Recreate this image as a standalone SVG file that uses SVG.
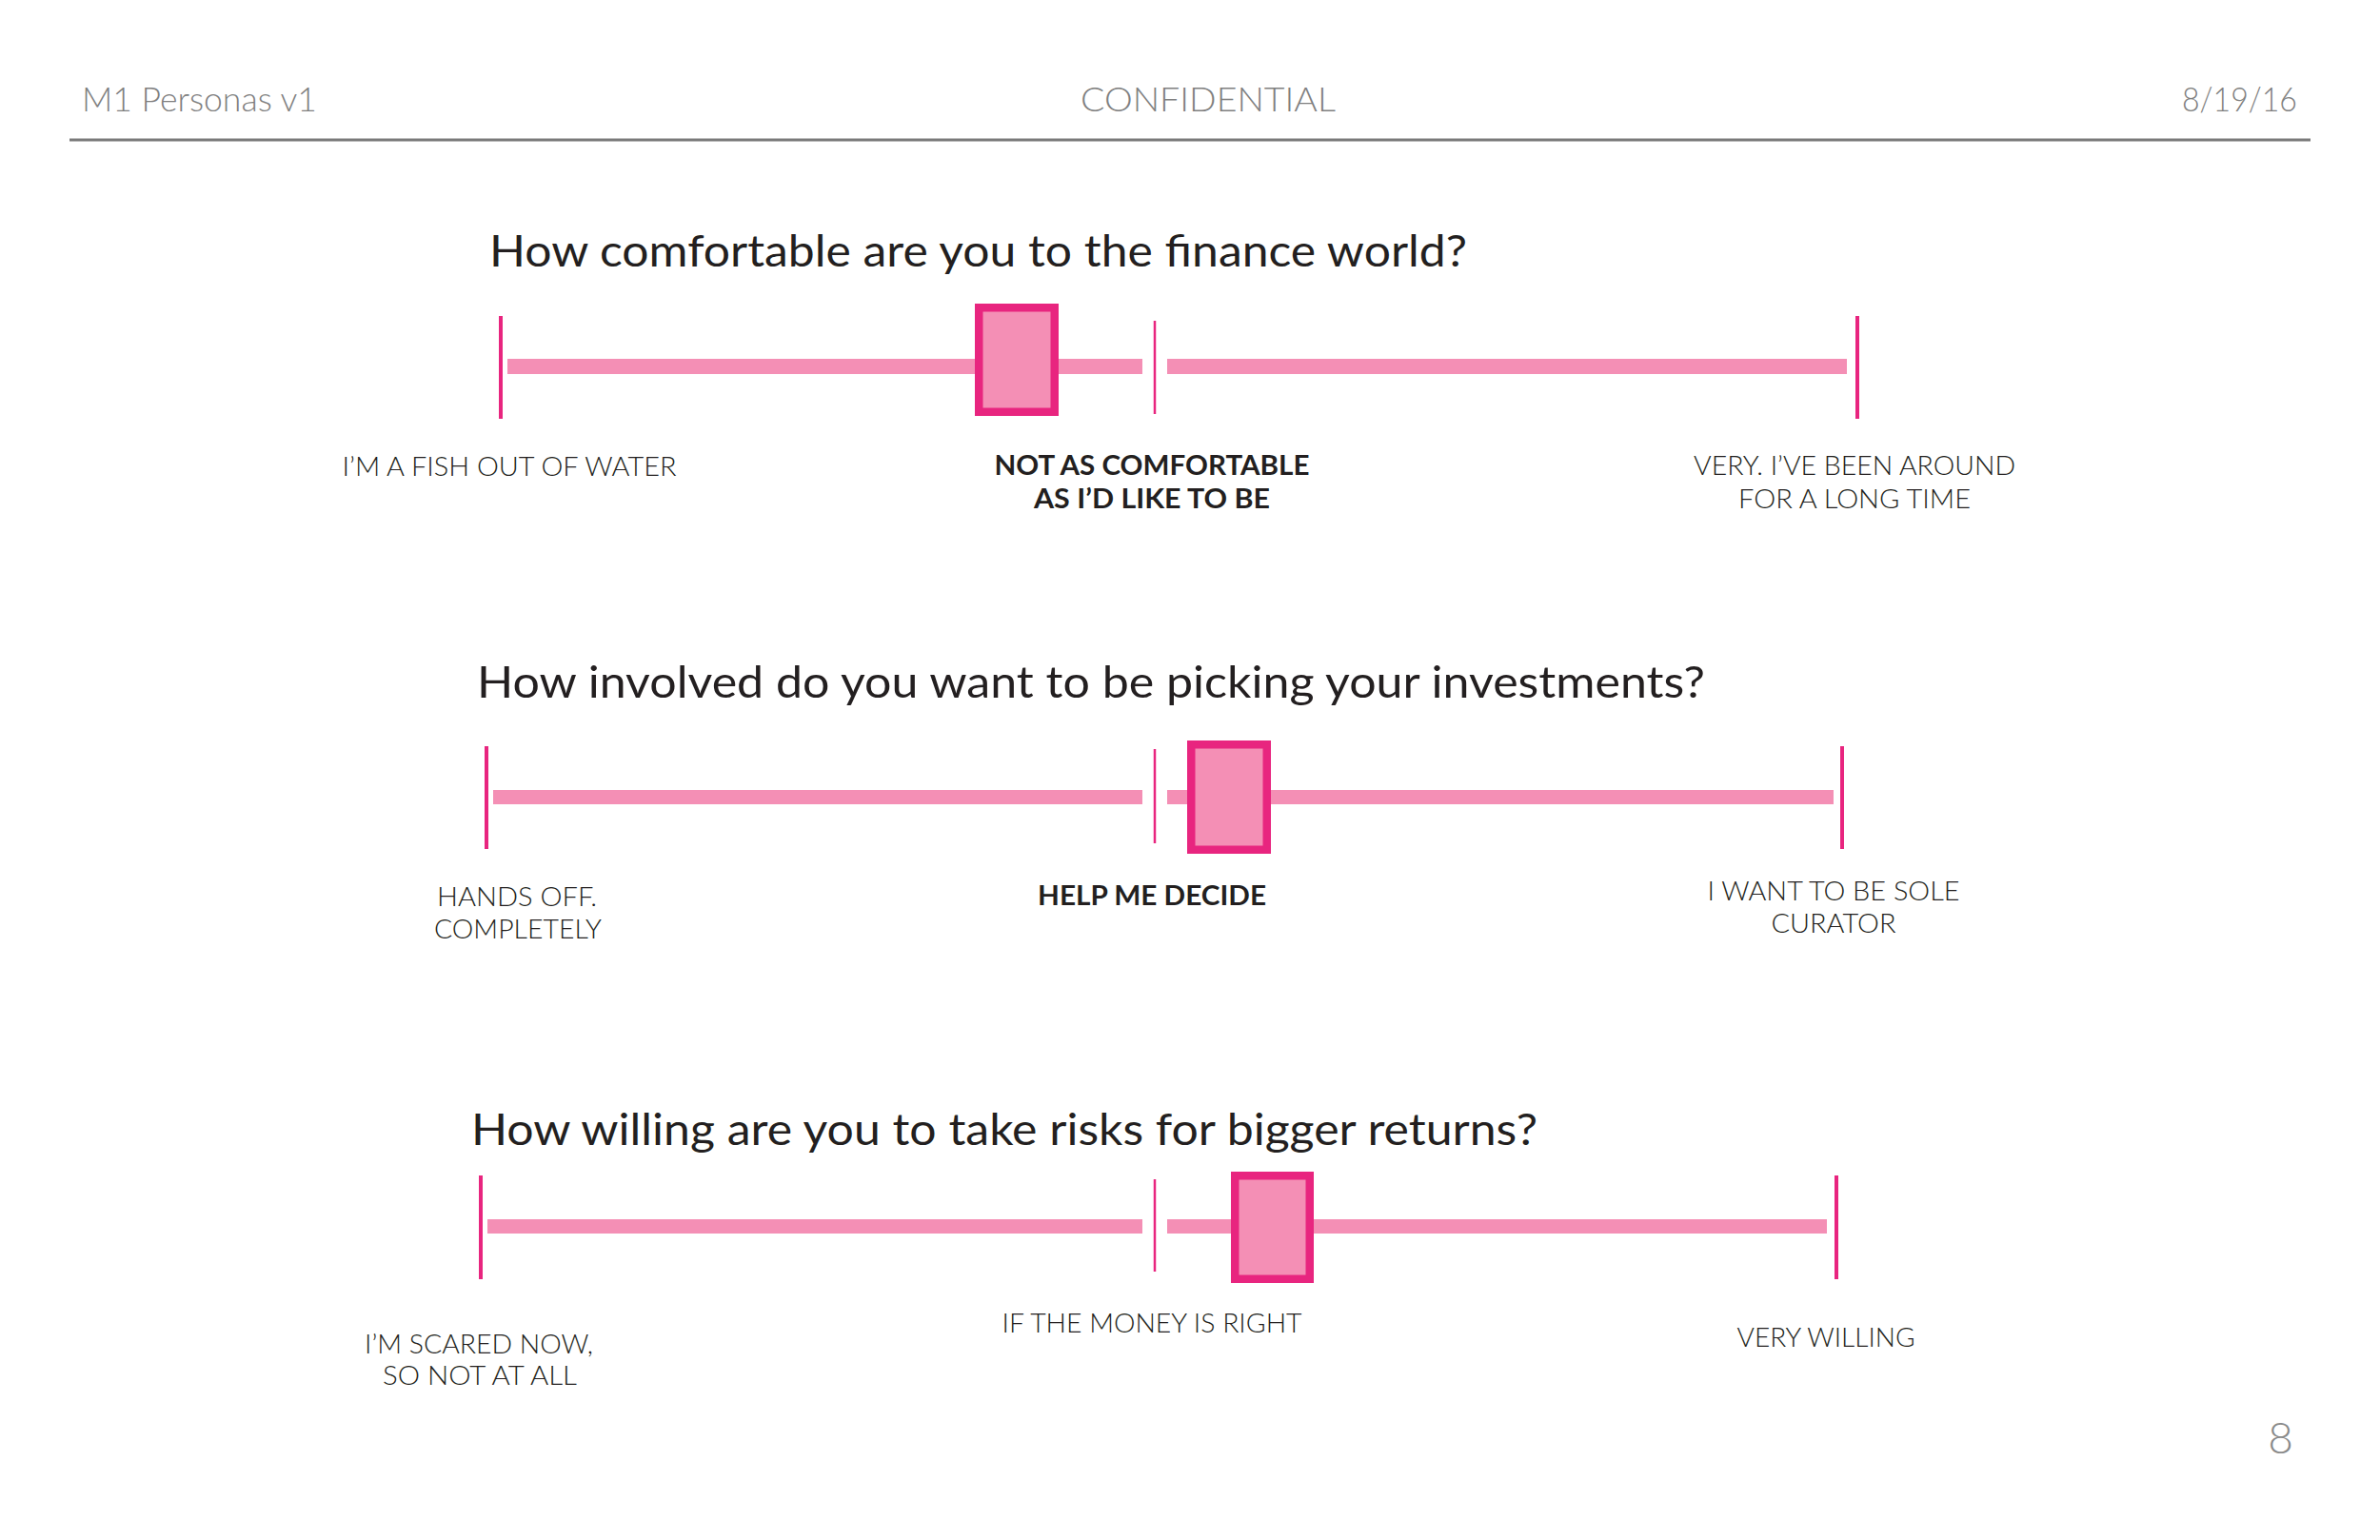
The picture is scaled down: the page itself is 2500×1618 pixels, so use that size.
<svg xmlns="http://www.w3.org/2000/svg" width="2500" height="1618" viewBox="0 0 2500 1618">
<style>
.hdr{font-family:Lato,"Liberation Sans",sans-serif;font-size:35px;fill:#808080;font-weight:300}
.q{font-family:Lato,"Liberation Sans",sans-serif;font-size:46px;fill:#231F20;font-weight:400}
.lbl{font-family:Lato,"Liberation Sans",sans-serif;font-size:28px;fill:#231F20;font-weight:300;text-anchor:middle}
.lblb{font-family:Lato,"Liberation Sans",sans-serif;font-size:28px;fill:#231F20;font-weight:700;text-anchor:middle}
.bar{fill:#F48FB5}
.tick{stroke:#E8257F;stroke-width:4}
.mtick{stroke:#E8257F;stroke-width:2.5}
.knob{fill:#F48FB5;stroke:#E8257F;stroke-width:8.5}
</style>
<rect width="2500" height="1618" fill="#FFFFFF"/>
<g id="header">
<text class="hdr" x="86" y="117" textLength="247" lengthAdjust="spacingAndGlyphs">M1 Personas v1</text>
<text class="hdr" x="1135" y="117" textLength="268" lengthAdjust="spacingAndGlyphs">CONFIDENTIAL</text>
<text class="hdr" x="2292" y="117" textLength="121" lengthAdjust="spacingAndGlyphs">8/19/16</text>
<line x1="73" y1="147" x2="2427" y2="147" stroke="#7A7A7A" stroke-width="3"/>
</g>
<g id="scale1">
<text class="q" x="514" y="280" textLength="1027" lengthAdjust="spacingAndGlyphs">How comfortable are you to the finance world?</text>
<rect class="bar" x="533" y="377" width="667" height="16"/>
<rect class="bar" x="1226" y="377" width="714" height="16"/>
<line class="tick" x1="526" y1="332" x2="526" y2="440"/>
<line class="mtick" x1="1213" y1="337" x2="1213" y2="435"/>
<line class="tick" x1="1951" y1="332" x2="1951" y2="440"/>
<rect class="knob" x="1028.25" y="323.25" width="79.5" height="109.5"/>
<text class="lbl" x="535" y="500" textLength="351" lengthAdjust="spacingAndGlyphs">I’M A FISH OUT OF WATER</text>
<text class="lblb" x="1210" y="499" textLength="331" lengthAdjust="spacingAndGlyphs">NOT AS COMFORTABLE</text>
<text class="lblb" x="1210" y="534" textLength="248" lengthAdjust="spacingAndGlyphs">AS I’D LIKE TO BE</text>
<text class="lbl" x="1948" y="499" textLength="338" lengthAdjust="spacingAndGlyphs">VERY. I’VE BEEN AROUND</text>
<text class="lbl" x="1948" y="534" textLength="244" lengthAdjust="spacingAndGlyphs">FOR A LONG TIME</text>
</g>
<g id="scale2">
<text class="q" x="501" y="733" textLength="1290" lengthAdjust="spacingAndGlyphs">How involved do you want to be picking your investments?</text>
<rect class="bar" x="518" y="830" width="682" height="15"/>
<rect class="bar" x="1226" y="830" width="700" height="15"/>
<line class="tick" x1="511" y1="784" x2="511" y2="892"/>
<line class="mtick" x1="1213" y1="787" x2="1213" y2="886"/>
<line class="tick" x1="1935" y1="784" x2="1935" y2="892"/>
<rect class="knob" x="1251.25" y="782.25" width="79.5" height="110.5"/>
<text class="lbl" x="543" y="952" textLength="168" lengthAdjust="spacingAndGlyphs">HANDS OFF.</text>
<text class="lbl" x="544" y="986" textLength="176" lengthAdjust="spacingAndGlyphs">COMPLETELY</text>
<text class="lblb" x="1210" y="951" textLength="240" lengthAdjust="spacingAndGlyphs">HELP ME DECIDE</text>
<text class="lbl" x="1926" y="946" textLength="265" lengthAdjust="spacingAndGlyphs">I WANT TO BE SOLE</text>
<text class="lbl" x="1926" y="980" textLength="131" lengthAdjust="spacingAndGlyphs">CURATOR</text>
</g>
<g id="scale3">
<text class="q" x="495" y="1203" textLength="1120" lengthAdjust="spacingAndGlyphs">How willing are you to take risks for bigger returns?</text>
<rect class="bar" x="512" y="1281" width="688" height="15"/>
<rect class="bar" x="1226" y="1281" width="693" height="15"/>
<line class="tick" x1="505" y1="1235" x2="505" y2="1344"/>
<line class="mtick" x1="1213" y1="1239" x2="1213" y2="1336"/>
<line class="tick" x1="1929" y1="1235" x2="1929" y2="1344"/>
<rect class="knob" x="1297.25" y="1235.25" width="78.5" height="108.5"/>
<text class="lbl" x="503" y="1422" textLength="240" lengthAdjust="spacingAndGlyphs">I’M SCARED NOW,</text>
<text class="lbl" x="504" y="1455" textLength="204" lengthAdjust="spacingAndGlyphs">SO NOT AT ALL</text>
<text class="lbl" x="1210" y="1400" textLength="315" lengthAdjust="spacingAndGlyphs">IF THE MONEY IS RIGHT</text>
<text class="lbl" x="1918" y="1415" textLength="187" lengthAdjust="spacingAndGlyphs">VERY WILLING</text>
</g>
<g id="footer">
<text x="2409" y="1527" text-anchor="end" style="font-family:Lato,'Liberation Sans',sans-serif;font-size:46px;fill:#8A8A8A;font-weight:300">8</text>
</g>
</svg>
